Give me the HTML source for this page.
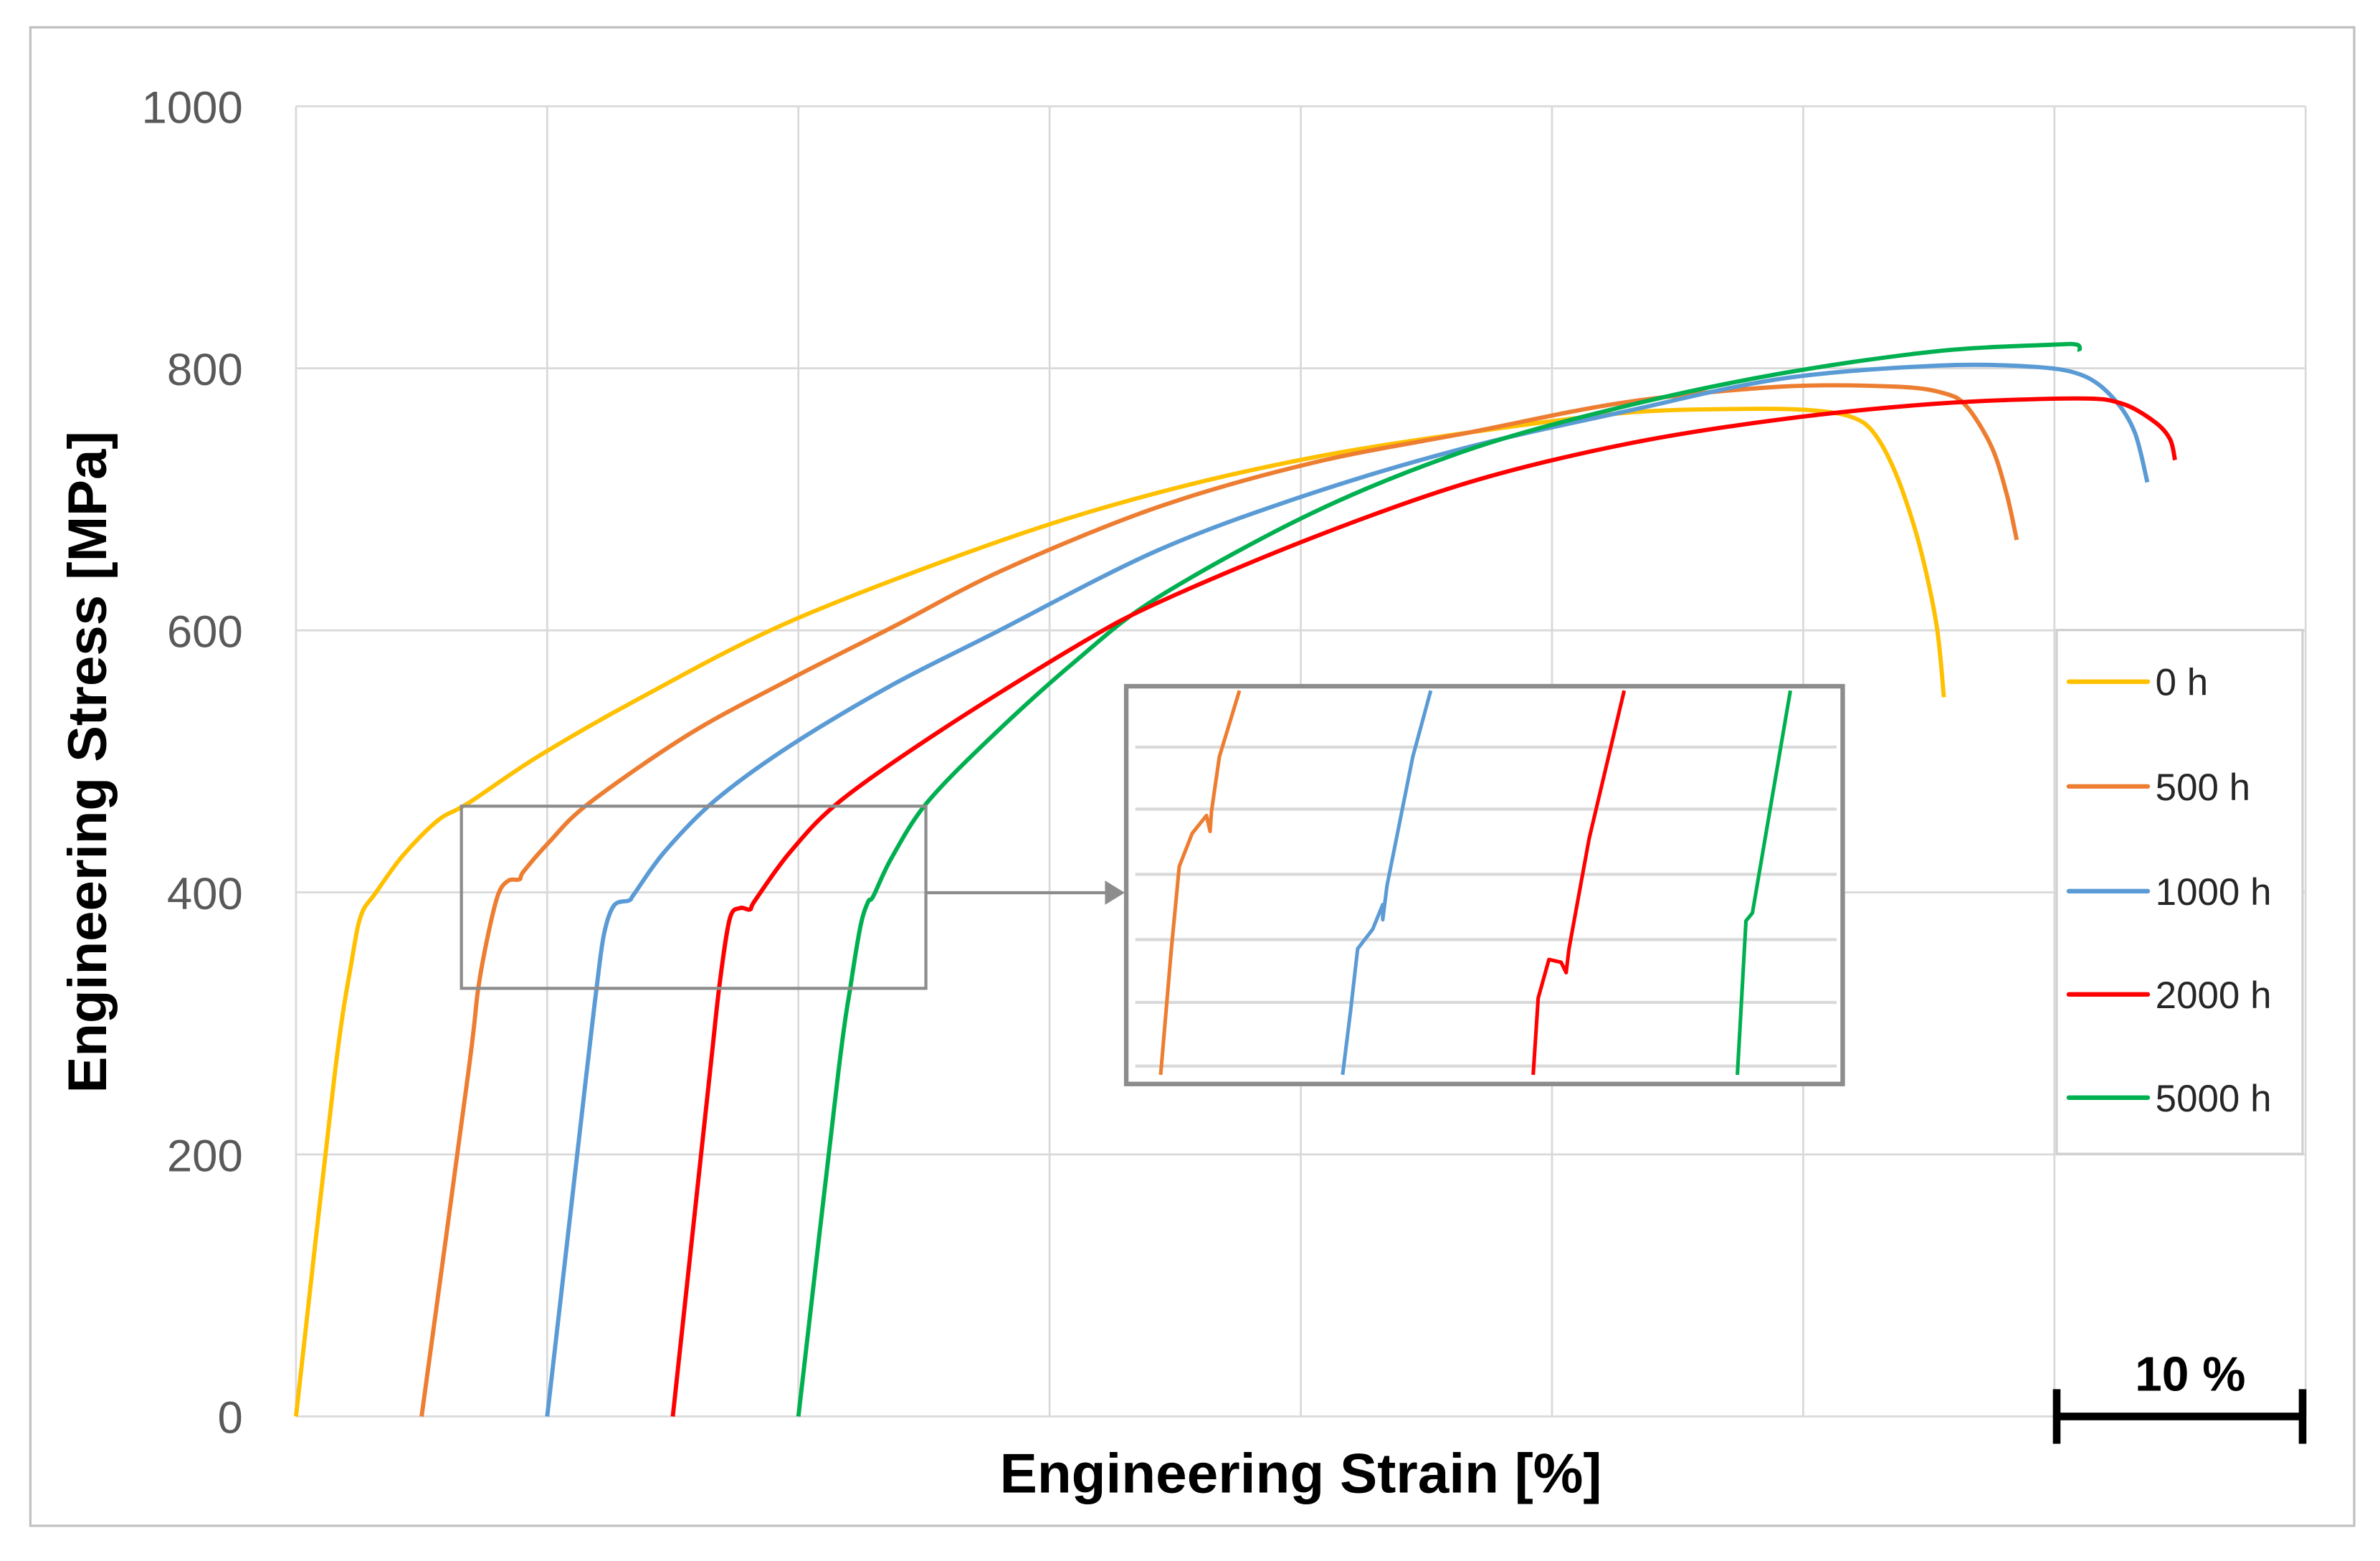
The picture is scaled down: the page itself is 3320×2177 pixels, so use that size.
<!DOCTYPE html>
<html><head><meta charset="utf-8"><style>
html,body{margin:0;padding:0;background:#fff;}
svg{display:block;}
text{font-family:"Liberation Sans",sans-serif;}
</style></head><body>
<svg id="chart" width="3320" height="2177" viewBox="0 0 1568 1028.2" preserveAspectRatio="none" xmlns="http://www.w3.org/2000/svg">
<rect x="20" y="18" width="1531" height="987" fill="#fff" stroke="#bfbfbf" stroke-width="1.5"/>
<g id="grid"></g>
<g id="yticks"></g>
<text transform="translate(70,502) rotate(-90)" text-anchor="middle" font-size="36" font-weight="bold" fill="#000">Engineering Stress [MPa]</text>
<text x="857" y="983" text-anchor="middle" font-size="37" font-weight="bold" fill="#000">Engineering Strain [%]</text>
<g id="series"></g>
<rect x="304" y="531" width="306" height="120" fill="none" stroke="#8c8c8c" stroke-width="2"/>
<line x1="610" y1="588" x2="730" y2="588" stroke="#8c8c8c" stroke-width="2"/>
<polygon points="728,580 741,588 728,596" fill="#8c8c8c"/>
<g id="inset"></g>
<g id="legend"></g>
<g>
<line x1="1353" y1="933" x2="1519" y2="933" stroke="#000" stroke-width="5"/>
<line x1="1355" y1="915" x2="1355" y2="951" stroke="#000" stroke-width="5"/>
<line x1="1517" y1="915" x2="1517" y2="951" stroke="#000" stroke-width="5"/>
<text x="1443" y="916" text-anchor="middle" font-size="32" font-weight="bold" fill="#000">10 %</text>
</g>
</svg>
<script>
const yTickValues = [0,200,400,600,800,1000];
const xGridValues = [0,10,20,30,40,50,60,70,80];
const seriesNames = ["0 h","500 h","1000 h","2000 h","5000 h"];
const seriesColors = ["#FFC000","#ED7D31","#5B9BD5","#FF0000","#00B050"];
const strain0 = [0,1.54,2.24,2.6,3.15,4.25,5.65,6.85,9.66,13.67,19.7,28.14,34.3,40.5,46.7,52.9,57.5,60.3,61.9,62.8,63.7,64.6,65.3,65.6];
const stress0 = [0,261,350,383,399,428,455,468,504,548,607,669,705,732,751,766,769,768,763,751,719,667,605,549];
const strain500 = [5,6.85,7.25,7.65,8.06,8.46,8.9,9.06,10.06,11.66,15.67,19.7,23.7,28.14,34.3,40.5,46.7,52.9,59.1,63.7,65.6,66.5,67.5,68.1,68.5];
const stress500 = [0,261,326,368,399,409,410,416,438,468,521,563,602,646,694,728,751,774,786,786,781,771,740,704,669];
const strain1000 = [10,11.56,11.96,12.26,12.66,13.27,13.47,14.67,16.67,19.68,23.7,27.7,34.3,40.5,46.7,52.9,59.1,65.3,69.3,71.2,72.4,73.2,73.7];
const stress1000 = [0,261,326,368,390,394,399,431,470,512,558,597,661,705,740,767,792,802,801,794,776,751,713];
const strain2000 = [15,16.47,16.87,17.27,17.68,18.08,18.28,19.68,21.68,25.7,31.06,34.3,40.5,46.7,52.9,59.1,65.3,70.9,72.7,74,74.6,74.8];
const stress2000 = [0,261,331,380,388,387,394,431,470,524,588,621,671,713,742,761,773,777,773,759,746,730];
const strain5000 = [20,21.58,22.08,22.48,22.78,22.98,23.7,25.1,27.7,31.06,34.3,40.5,46.7,52.9,59.1,65.3,69.9,70.9,71];
const stress5000 = [0,261,329,375,393,397,426,468,519,577,625,690,738,771,796,813,818,818,813];
// inset (zoomed view), normalized 0-100 axis units
const insetX500 = [4.8,6.3,7.4,9.2,11.2,11.7,11.9,13,15.8];
const insetY500 = [2.3,34,54.7,63,67.5,63.5,68.6,82.3,98.9];
const insetX1000 = [30.2,31.3,32.3,34.4,35.8,35.8,36.4,40,42.5];
const insetY1000 = [2.3,18.2,34,38.9,45.1,41.3,49.9,82.3,98.9];
const insetX2000 = [56.8,57.5,59,60.7,61.4,61.8,64.6,69.5];
const insetY2000 = [2.3,21.6,31.3,30.6,28,34,61.6,98.9];
const insetX5000 = [85.3,86.5,87.4,92.7];
const insetY5000 = [2.3,41,43,98.9];
const insetGridY = [4.5,20.5,36.3,52.7,69.1,84.7];

const NS="http://www.w3.org/2000/svg";
const X0=195,X1=1519,Y0=933,Y1=70;
const xs=v=>X0+(v-0)/80*(X1-X0);
const ys=v=>Y0-(v-0)/1000*(Y0-Y1);
const IX0=742,IX1=1214,IY0=714,IY1=452;
const ixs=v=>IX0+v/100*(IX1-IX0);
const iys=v=>IY0-v/100*(IY0-IY1);
function mk(tag,attrs,parent){const e=document.createElementNS(NS,tag);for(const k in attrs)e.setAttribute(k,attrs[k]);parent.appendChild(e);return e;}
const grid=document.getElementById('grid');
yTickValues.forEach(v=>{
  const l=mk('line',{x1:X0,x2:X1,y1:ys(v),y2:ys(v),stroke:'#d9d9d9','stroke-width':1.3},grid);
  
  
});
xGridValues.forEach(v=>{
  const l=mk('line',{x1:xs(v),x2:xs(v),y1:Y1,y2:Y0,stroke:'#d9d9d9','stroke-width':1.3},grid);
  
  
});
const yt=document.getElementById('yticks');
yTickValues.forEach(v=>{
  const t=mk('text',{x:160,y:ys(v)+11,'text-anchor':'end','font-size':30,fill:'#595959'},yt);
  t.textContent=v;
  
  
});
function smoothPath(px,py){
  let d=`M${px[0]},${py[0]}`;
  for(let i=0;i<px.length-1;i++){
    const p0=i>0?i-1:i,p3=i+2<px.length?i+2:i+1;
    const t=0.16;
    const c1x=px[i]+(px[i+1]-px[p0])*t,c1y=py[i]+(py[i+1]-py[p0])*t;
    const c2x=px[i+1]-(px[p3]-px[i])*t,c2y=py[i+1]-(py[p3]-py[i])*t;
    d+=` C${c1x},${c1y} ${c2x},${c2y} ${px[i+1]},${py[i+1]}`;
  }
  return d;
}
const sg=document.getElementById('series');
const mainX=[strain0,strain500,strain1000,strain2000,strain5000];
const mainY=[stress0,stress500,stress1000,stress2000,stress5000];
const order=[0,1,2,4,3];
order.forEach(i=>{
  const p=mk('path',{d:smoothPath(mainX[i].map(xs),mainY[i].map(ys)),fill:'none',stroke:seriesColors[i],'stroke-width':2.8,'stroke-linejoin':'round'},sg);
  
  
});
const ins=document.getElementById('inset');
const ib=mk('rect',{x:IX0,y:IY1,width:IX1-IX0,height:IY0-IY1,fill:'#fff',stroke:'#8c8c8c','stroke-width':3},ins);


insetGridY.forEach(v=>{
  const l=mk('line',{x1:IX0+6,x2:IX1-4,y1:iys(v),y2:iys(v),stroke:'#d9d9d9','stroke-width':2},ins);
  
  
});
const insX=[insetX500,insetX1000,insetX2000,insetX5000];
const insY=[insetY500,insetY1000,insetY2000,insetY5000];
insX.forEach((arr,k)=>{
  const pts=arr.map((v,j)=>ixs(v)+','+iys(insY[k][j])).join(' ');
  const p=mk('polyline',{points:pts,fill:'none',stroke:seriesColors[k+1],'stroke-width':2.4,'stroke-linejoin':'round'},ins);
  
  
});
const lg=document.getElementById('legend');
const lr=mk('rect',{x:1355,y:415,width:162,height:345,fill:'#fff',stroke:'#d0d0d0','stroke-width':1.5},lg);


const legY=[449,518,587,655,723];
seriesNames.forEach((n,i)=>{
  const l=mk('line',{x1:1363,x2:1415,y1:legY[i],y2:legY[i],stroke:seriesColors[i],'stroke-width':3,'stroke-linecap':'round'},lg);
  
  
  const t=mk('text',{x:1420,y:legY[i]+9,'font-size':25,fill:'#262626'},lg);
  t.textContent=n;
  
  
});
</script>
</body></html>
